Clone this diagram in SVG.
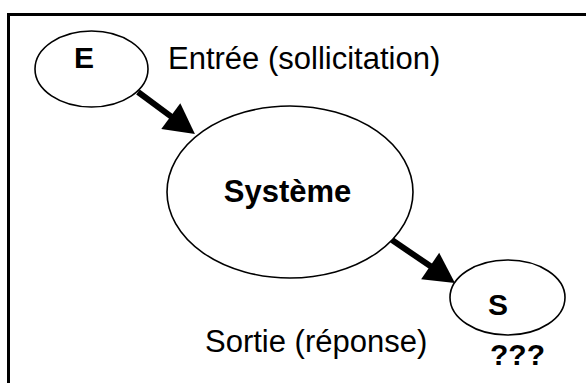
<svg xmlns="http://www.w3.org/2000/svg" width="586" height="383" viewBox="0 0 586 383">
<style>
.node ellipse{fill:#fff;stroke:#000;stroke-width:1.6}
.lbl{font-family:"Liberation Sans",Arial,sans-serif;font-size:31px;fill:#000}
.b{font-weight:bold;font-size:30px}
.conn line{stroke:#000;stroke-width:6}
</style>
<defs>
<marker id="ah" markerUnits="userSpaceOnUse" viewBox="0 -17 32 34" markerWidth="32" markerHeight="34" refX="0" refY="0" orient="auto" overflow="visible">
<path d="M-1,-16 L29,0 L-1,16 z" fill="#000"/>
</marker>
</defs>
<rect width="586" height="383" fill="#fff"/>
<path d="M8.5,383 V14.5 H586" fill="none" stroke="#000" stroke-width="3"/>
<g class="conn">
<line x1="138" y1="92" x2="171.6" y2="116.8" marker-end="url(#ah)"/>
<line x1="392" y1="240" x2="431" y2="266.6" marker-end="url(#ah)"/>
</g>
<g id="nodeE" class="node">
<ellipse cx="91.5" cy="69" rx="56.5" ry="38"/>
<text class="lbl b" x="84" y="68" text-anchor="middle">E</text>
</g>
<g id="nodeSysteme" class="node">
<ellipse cx="290" cy="192" rx="123" ry="86"/>
<text class="lbl b" x="287.5" y="202" text-anchor="middle" style="font-size:31px">Système</text>
</g>
<g id="nodeS" class="node">
<ellipse cx="507.5" cy="297.5" rx="57.5" ry="37.5"/>
<text class="lbl b" x="498" y="315" text-anchor="middle">S</text>
<text class="lbl b" x="517.5" y="365" text-anchor="middle">???</text>
</g>
<text class="lbl" x="168" y="69">Entrée (sollicitation)</text>
<text class="lbl" x="205" y="352">Sortie (réponse)</text>
</svg>
